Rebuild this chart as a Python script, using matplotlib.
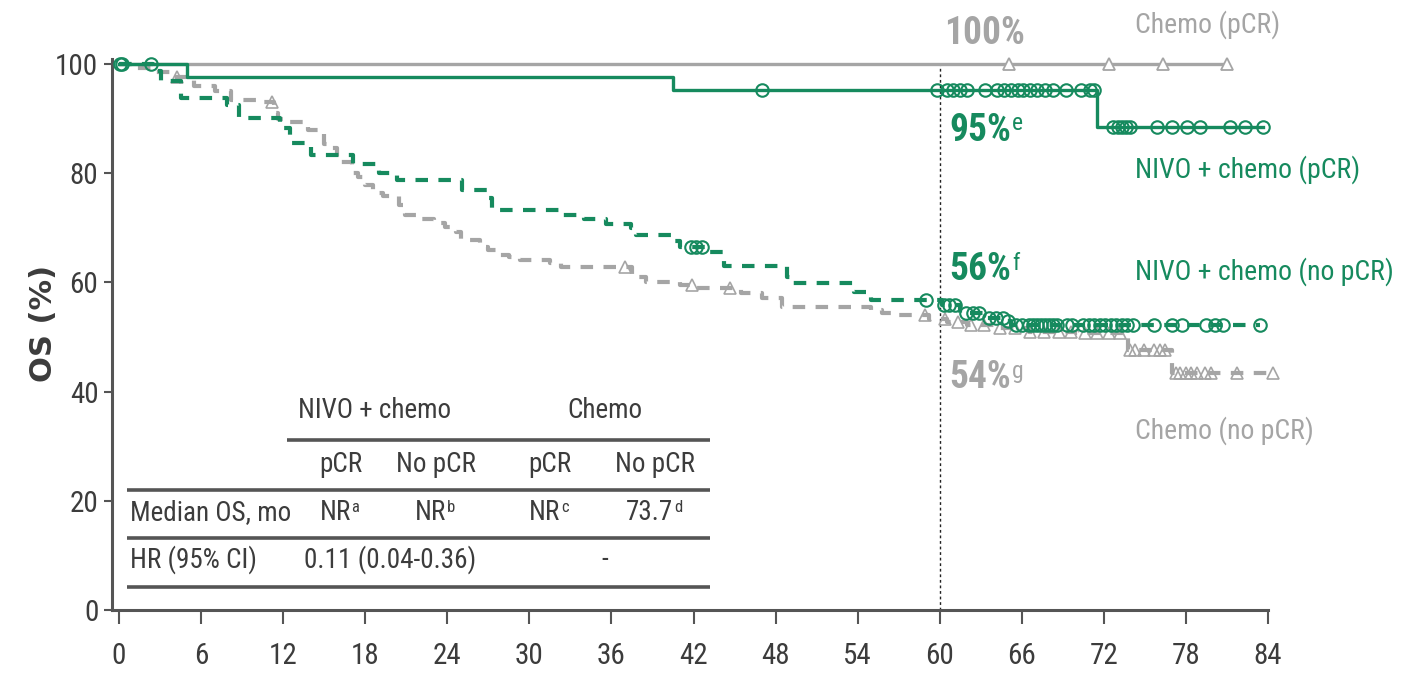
import numpy as np
import matplotlib
matplotlib.use("Agg")
import matplotlib.pyplot as plt

plt.rcParams["font.family"] = ["DejaVu Sans Condensed", "Roboto Condensed", "Liberation Sans",
                               "DejaVu Sans"]
plt.rcParams["font.stretch"] = "condensed"

GREEN = "#168a5e"
GREY = "#a5a5a5"
DARK = "#3c3c3c"

month_ticks = list(range(0, 85, 6))
os_ticks = [0, 20, 40, 60, 80, 100]

# NIVO + chemo (pCR) - step times / survival, last point = end of follow-up
nivo_pcr_t = [0, 5.0, 40.5, 71.5, 83.6]
nivo_pcr_s = [100, 97.6, 95.2, 88.5, 88.5]
nivo_pcr_cens = [0.2, 2.3, 47.0, 59.8, 60.5, 61.0, 61.5, 62.0, 63.3, 64.2, 64.7, 65.2,
                 65.7, 66.1, 66.6, 67.1, 67.7, 68.3, 69.2, 70.3, 71.0, 71.3, 72.7, 73.0,
                 73.3, 73.6, 73.9, 75.9, 77.0, 78.1, 79.0, 81.2, 82.3, 83.6]

# Chemo (pCR)
chemo_pcr_t = [0, 81.0]
chemo_pcr_s = [100, 100]
chemo_pcr_cens = [65.1, 72.4, 76.3, 81.0]

# NIVO + chemo (no pCR)
nivo_npcr_t = [0, 2.5, 3.1, 4.5, 7.9, 8.8, 11.8, 12.5, 14.0, 17.1, 19.0, 20.3, 25.1,
               26.9, 27.3, 32.3, 34.0, 35.6, 37.4, 37.8, 40.5, 41.0, 43.0, 44.2, 48.8,
               49.2, 53.7, 55.0, 60.2, 61.5, 63.4, 64.8, 65.2, 83.4]
nivo_npcr_s = [100, 98.8, 96.8, 93.8, 92.5, 90.1, 88.3, 85.5, 83.3, 81.7, 80.0, 78.8, 76.9,
               75.5, 73.3, 72.3, 71.6, 70.7, 70.0, 68.7, 67.5, 66.5, 65.6, 63.0, 61.0,
               59.9, 58.2, 56.8, 55.9, 54.4, 53.5, 53.0, 52.2, 52.2]
nivo_npcr_cens = [0.1, 41.8, 42.2, 42.6, 59.0, 60.3, 60.7, 61.1, 61.9, 62.4, 62.9, 63.6,
                  64.1, 64.6, 65.0, 65.6, 66.0, 66.5, 66.8, 67.1, 67.4, 67.7, 68.0, 68.3,
                  68.6, 69.3, 69.7, 70.5, 70.9, 71.3, 71.7, 72.1, 72.5, 72.9, 73.3, 73.7,
                  74.1, 75.7, 77.0, 77.7, 79.5, 80.1, 80.7, 83.4]

# Chemo (no pCR)
chemo_npcr_t = [0, 1.2, 2.5, 4.0, 5.5, 7.0, 8.2, 10.0, 11.3, 11.6, 12.3, 13.8, 15.0, 15.4,
                15.9, 17.0, 17.5, 18.0, 18.6, 19.3, 20.5, 20.9, 21.7, 23.0, 23.8, 24.6,
                25.0, 26.4, 27.0, 27.6, 28.5, 29.3, 31.5, 32.3, 37.5, 38.5, 41.0, 42.0,
                45.5, 47.0, 48.5, 55.0, 55.8, 56.6, 59.2, 60.5, 62.0, 64.0, 66.5, 70.0,
                73.8, 77.0, 84.5]
chemo_npcr_s = [100, 99.3, 98.5, 97.6, 96.0, 95.0, 93.4, 93.0, 91.0, 90.0, 89.4, 88.0, 85.3,
                84.6, 82.0, 80.0, 79.3, 77.8, 76.4, 75.8, 74.2, 72.3, 71.6, 70.9, 70.1,
                69.2, 67.8, 66.5, 66.0, 65.0, 64.6, 64.1, 63.5, 62.8, 61.0, 60.0, 59.5,
                59.0, 58.0, 57.1, 55.5, 55.0, 54.4, 54.0, 53.3, 52.7, 52.2, 51.6, 51.0,
                50.7, 47.6, 43.4, 43.4]
chemo_npcr_cens = [4.2, 11.2, 37.0, 41.9, 44.7, 58.9, 60.4, 61.3, 62.3, 63.2, 64.4, 65.5,
                   66.6, 67.6, 68.7, 69.6, 70.6, 71.5, 72.4, 73.2, 73.9, 74.3, 74.9, 75.7,
                   76.1, 76.5, 77.3, 77.6, 78.0, 78.4, 78.8, 79.4, 79.8, 81.7, 84.4]

# summary table
table_groups = ["NIVO + chemo", "Chemo"]
table_cols = ["pCR", "No pCR", "pCR", "No pCR"]
median_os = [("NR", "a"), ("NR", "b"), ("NR", "c"), ("73.7", "d")]
hr_text = ["0.11 (0.04-0.36)", "-"]


def at(t, s, x):
    idx = np.searchsorted(t, x, side="right") - 1
    return np.asarray(s)[idx]


def sup_text(ax, x, y, main, sup, size, sup_size, **kw):
    t = ax.text(x, y, main, fontsize=size, **kw)
    kw.pop("ha", None)
    kw.pop("va", None)
    ax.annotate(sup, xy=(1.0, 0.98), xycoords=t, fontsize=sup_size, ha="left", va="top",
                color=kw.get("color"), xytext=(0.5, 0), textcoords="offset points")
    return t


fig = plt.figure(figsize=(14.01, 6.77), dpi=100)
ax = fig.add_axes([0.0801, 0.099, 0.8445, 0.8468])
ax.set_xlim(-0.5, 86)
ax.set_ylim(0, 105)

# curves
ax.step(chemo_pcr_t, chemo_pcr_s, where="post", color=GREY, lw=2.4, zorder=2)
ax.plot(chemo_pcr_cens, at(chemo_pcr_t, chemo_pcr_s, chemo_pcr_cens), ls="none", marker="^",
        ms=9, mfc="white", mec=GREY, mew=1.3, zorder=3)
ax.step(chemo_npcr_t, chemo_npcr_s, where="post", color=GREY, lw=3, ls=(0, (3, 2.5)), zorder=2)
ax.plot(chemo_npcr_cens, at(chemo_npcr_t, chemo_npcr_s, chemo_npcr_cens), ls="none", marker="^",
        ms=8, mfc="none", mec=GREY, mew=1.2, zorder=3)

ax.step(nivo_npcr_t, nivo_npcr_s, where="post", color=GREEN, lw=3, ls=(0, (3, 2.5)), zorder=4)
ax.plot(nivo_npcr_cens, at(nivo_npcr_t, nivo_npcr_s, nivo_npcr_cens), ls="none", marker="o",
        ms=9, mfc="none", mec=GREEN, mew=1.5, zorder=5)
ax.step(nivo_pcr_t, nivo_pcr_s, where="post", color=GREEN, lw=2.4, zorder=4)
ax.plot(nivo_pcr_cens, at(nivo_pcr_t, nivo_pcr_s, nivo_pcr_cens), ls="none", marker="o",
        ms=9, mfc="none", mec=GREEN, mew=1.5, zorder=5)

ax.axvline(60, ymin=0, ymax=100 / 105, color="#222222", lw=1, ls=(0, (2, 2)), zorder=1)

# axes styling
for side in ["top", "right"]:
    ax.spines[side].set_visible(False)
ax.spines["left"].set_bounds(0, 101)
ax.spines["bottom"].set_bounds(-0.5, 84)
for side in ["left", "bottom"]:
    ax.spines[side].set_color("#555555")
    ax.spines[side].set_linewidth(2.2)
ax.set_xticks(month_ticks)
ax.set_yticks(os_ticks)
ax.tick_params(axis="x", length=10, width=1.5, color="#555555", pad=13, labelsize=21,
               labelcolor=DARK)
ax.tick_params(axis="y", length=6, width=1.5, color="#555555", pad=4, labelsize=21,
               labelcolor=DARK)
ax.set_ylabel("OS (%)", fontsize=22, fontweight="bold", color=DARK, family="DejaVu Sans",
              fontstretch="normal")
ax.yaxis.set_label_coords(-0.046, 0.5)

# curve labels
ax.text(63.3, 105.5, "100%", fontsize=27, fontweight="bold", color=GREY, ha="center", va="center")
ax.text(74.3, 107.2, "Chemo (pCR)", fontsize=20, color=GREY, ha="left", va="center")
sup_text(ax, 60.7, 87.9, "95%", "e", 27, 17, fontweight="bold", color=GREEN, ha="left", va="center")
ax.text(74.3, 80.6, "NIVO + chemo (pCR)", fontsize=20, color=GREEN, ha="left", va="center")
sup_text(ax, 60.7, 62.3, "56%", "f", 27, 17, fontweight="bold", color=GREEN, ha="left", va="center")
ax.text(74.3, 61.9, "NIVO + chemo (no pCR)", fontsize=20, color=GREEN, ha="left", va="center")
sup_text(ax, 60.7, 42.5, "54%", "g", 27, 17, fontweight="bold", color=GREY, ha="left", va="center")
ax.text(74.3, 32.9, "Chemo (no pCR)", fontsize=20, color=GREY, ha="left", va="center")

# table
line_kw = dict(color="#555555", lw=2.6, solid_capstyle="butt", zorder=1)
ax.plot([12.3, 43.2], [31.1, 31.1], **line_kw)
for yl in [22.0, 13.2, 4.2]:
    ax.plot([0.6, 43.2], [yl, yl], **line_kw)
for gx, g in zip([18.7, 35.5], table_groups):
    ax.text(gx, 36.6, g, fontsize=19.5, color=DARK, ha="center", va="center")
col_x = [16.2, 23.2, 31.5, 39.2]
for cx, c in zip(col_x, table_cols):
    ax.text(cx, 26.6, c, fontsize=19.5, color=DARK, ha="center", va="center")
ax.text(0.8, 17.8, "Median OS, mo", fontsize=19.5, color=DARK, ha="left", va="center")
for cx, (m, s) in zip(col_x, median_os):
    sup_text(ax, cx - 0.4, 17.8, m, s, 19.5, 12, color=DARK, ha="center", va="center")
ax.text(0.8, 9.2, "HR (95% CI)", fontsize=19.5, color=DARK, ha="left", va="center")
ax.text(19.8, 9.2, hr_text[0], fontsize=19.5, color=DARK, ha="center", va="center")
ax.text(35.5, 9.2, hr_text[1], fontsize=19.5, color=DARK, ha="center", va="center")

fig.savefig("out.png", dpi=100)
